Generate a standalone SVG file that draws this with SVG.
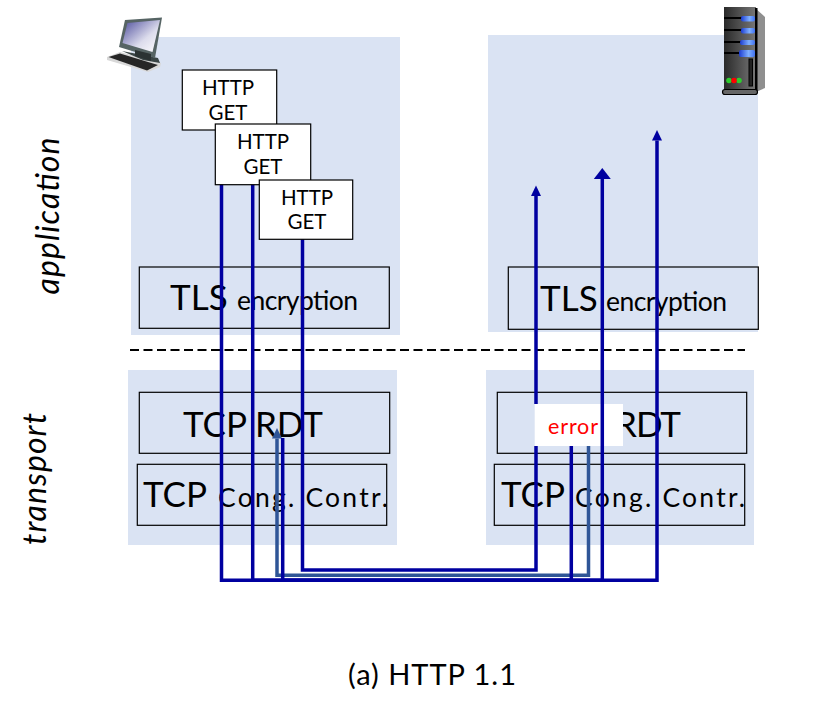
<svg xmlns="http://www.w3.org/2000/svg" width="837" height="719" viewBox="0 0 837 719">
<style>
text{font-family:"Lato","Carlito","Liberation Sans",sans-serif;fill:#000}
.panel{fill:#dae3f3}
.layer{fill:none;stroke:#000;stroke-width:1.2}
.msg{fill:#fff;stroke:#000;stroke-width:1.2}
.m{font-size:20.500px;text-anchor:middle}
.big{font-size:35px}
.small{font-size:26.500px}
.side{font-size:32px;font-style:italic;text-anchor:middle}
.blue{fill:none;stroke:#0000a0;stroke-width:3.500}
.steel{fill:none;stroke:#2f5597;stroke-width:3.500}
</style>
<defs>
<marker id="hs" markerUnits="userSpaceOnUse" markerWidth="11" markerHeight="11" refX="0" refY="5.500" orient="auto"><path d="M0 .5L10.500 5.500L0 10.500Z" fill="#0000a0"/></marker>
<marker id="hl" markerUnits="userSpaceOnUse" markerWidth="12" markerHeight="18" refX="0" refY="9" orient="auto"><path d="M0 .5L11 9L0 17.500Z" fill="#0000a0"/></marker>
<marker id="hb" markerUnits="userSpaceOnUse" markerWidth="11" markerHeight="11" refX="0" refY="5.500" orient="auto"><path d="M0 .5L10.500 5.500L0 10.500Z" fill="#2f5597"/></marker>
<linearGradient id="scr" x1="0" y1="0" x2="1" y2="1"><stop offset="0" stop-color="#4c4c9c"/><stop offset=".6" stop-color="#dcdcec"/><stop offset="1" stop-color="#fff"/></linearGradient>
<linearGradient id="srv" x1="0" y1="0" x2="1" y2="0"><stop offset="0" stop-color="#2a2a2a"/><stop offset="1" stop-color="#777"/></linearGradient>
<linearGradient id="led" x1="0" y1="0" x2="1" y2="0"><stop offset="0" stop-color="#1c3cd0"/><stop offset=".6" stop-color="#7fb0ff"/><stop offset="1" stop-color="#3f70f0"/></linearGradient>
</defs>

<g id="client-application"><rect class="panel" x="131" y="37" width="269" height="298"/></g>
<g id="server-application"><rect class="panel" x="488" y="35" width="270" height="297"/></g>
<g id="client-transport"><rect class="panel" x="128" y="370" width="269" height="175"/></g>
<g id="server-transport"><rect class="panel" x="486" y="370" width="268" height="175"/></g>

<g id="client-icon">
<path d="M107 57L120 52L161 63L160 67L148 72L107 60Z" fill="#d8d8d8"/>
<path d="M108.500 57L120 53.500L158 65L147 70.500Z" fill="#262626"/>
<path d="M122 51L158 58L160 63L143 60Z" fill="#3a4545"/>
<path d="M125 20L162 17.500L155 58L119 47Z" fill="#566464"/>
<path d="M127.500 23L160 20L152.500 52L122.500 43Z" fill="url(#scr)"/>
<path d="M135 50L151 54L151 61L135 56Z" fill="#2b3333"/>
</g>

<g id="server-icon">
<path d="M755 8L765 17V88L756 92Z" fill="#8f8f8f"/>
<rect x="724" y="7" width="32" height="83" fill="url(#srv)"/>
<rect x="755" y="8" width="2.500" height="83" fill="#000"/>
<g fill="#000"><rect x="724" y="17" width="18" height="2"/><rect x="724" y="29" width="18" height="2"/><rect x="724" y="41" width="18" height="2"/><rect x="724" y="52" width="18" height="2"/></g>
<g fill="url(#led)"><rect x="741" y="16" width="14" height="5.500" rx="2"/><rect x="741" y="28" width="14" height="5.500" rx="2"/><rect x="740" y="40" width="15" height="5" rx="2"/><rect x="739" y="50" width="16" height="7" rx="2"/></g>
<rect x="749" y="59" width="3.500" height="27" fill="#222" stroke="#000"/>
<circle cx="729" cy="80.500" r="2.800" fill="#2ecc2e"/><circle cx="739" cy="80.500" r="2.800" fill="#2ecc2e"/><circle cx="734" cy="80.500" r="2.800" fill="#f00"/>
<rect x="722.500" y="89.500" width="35" height="5" rx="2.500" fill="#666" stroke="#000" stroke-width="1.200"/>
</g>

<g id="client-tls"><rect class="layer" x="139.300" y="267" width="250" height="61.300"/>
<text class="big" x="170" y="310">TLS</text><text class="small" x="237" y="310" textLength="121">encryption</text></g>
<g id="server-tls"><rect class="layer" x="508.300" y="267" width="250" height="62.300"/>
<text class="big" x="540" y="311">TLS</text><text class="small" x="606" y="311" textLength="121">encryption</text></g>
<g id="client-rdt"><rect class="layer" x="139.300" y="392.300" width="250.400" height="61"/>
<text class="big" x="183" y="437" textLength="140">TCP RDT</text></g>
<g id="client-cc"><rect class="layer" x="137.300" y="464.300" width="249.400" height="61"/>
<text class="big" x="143" y="507">TCP</text><text class="small" x="218" y="507" textLength="170">Cong. Contr.</text></g>
<g id="server-rdt"><rect class="layer" x="497.300" y="392.300" width="249.400" height="61"/>
<text class="big" x="615" y="437" textLength="66">RDT</text></g>
<g id="server-cc"><rect class="layer" x="494.300" y="464.300" width="250.400" height="61"/>
<text class="big" x="501" y="507">TCP</text><text class="small" x="575" y="507" textLength="170">Cong. Contr.</text></g>
<g id="error"><rect x="534.700" y="404" width="88.300" height="42" fill="#fff"/>
<text x="573" y="434" font-size="21.500" text-anchor="middle" style="fill:#f00" textLength="50">error</text></g>

<line id="layer-divider" x1="130" y1="350" x2="745" y2="350" stroke="#000" stroke-width="2" stroke-dasharray="9 4.500"/>

<g id="connectors">
<path class="blue" d="M221.500 180V580.300H657V140.500" marker-end="url(#hs)"/>
<path class="blue" d="M252.700 180V580.300H602.300V179" marker-end="url(#hl)"/>
<path class="blue" d="M302.500 235V570H536V446M536 404V196" marker-end="url(#hs)"/>
<path class="steel" d="M588.500 446V575.300H277V438.500" marker-end="url(#hb)"/>
<path class="blue" d="M571.300 446V580.300H282.700V438"/>
</g>

<g id="get-1"><rect class="msg" x="182.300" y="70" width="94.400" height="60"/>
<text class="m" x="228" y="95">HTTP</text><text class="m" x="228" y="120">GET</text></g>
<g id="get-2"><rect class="msg" x="215.300" y="124" width="95.400" height="60.700"/>
<text class="m" x="263" y="149">HTTP</text><text class="m" x="263" y="174">GET</text></g>
<g id="get-3"><rect class="msg" x="259.300" y="180" width="93.400" height="59.300"/>
<text class="m" x="307" y="205">HTTP</text><text class="m" x="307" y="229">GET</text></g>

<text class="side" transform="translate(59 216) rotate(-90)" textLength="157">application</text>
<text class="side" transform="translate(46 479) rotate(-90)" textLength="132">transport</text>
<text x="432" y="685" font-size="29" text-anchor="middle" textLength="168">(a) HTTP 1.1</text>
</svg>
